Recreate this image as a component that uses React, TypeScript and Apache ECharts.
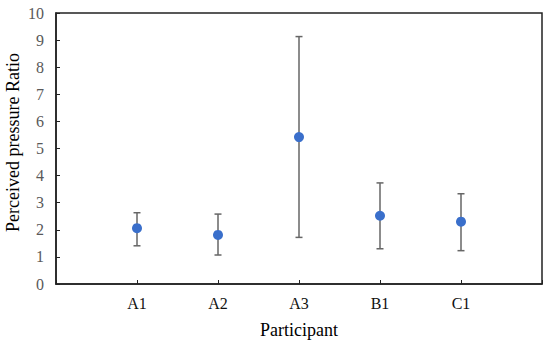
import React, { useEffect, useRef } from "react";
import * as echarts from "echarts";

const categories = ["A1", "A2", "A3", "B1", "C1"];
const meanValues = [2.06, 1.81, 5.42, 2.52, 2.3];
const upperValues = [2.63, 2.58, 9.13, 3.73, 3.33];
const lowerValues = [1.41, 1.07, 1.72, 1.3, 1.23];

const FONT = "'Liberation Serif', 'Times New Roman', serif";

export default function App() {
  const ref = useRef<HTMLDivElement>(null);
  useEffect(() => {
    document.body.style.margin = "0";
    if (!ref.current) return;
    const chart = echarts.init(ref.current, undefined, { renderer: "svg" });
    const points = categories.map((_, i) => [i + 1, meanValues[i]]);
    const bars = categories.map((_, i) => [i + 1, lowerValues[i], upperValues[i]]);
    chart.setOption({
      animation: false,
      grid: {
        left: 56,
        right: 8,
        top: 13,
        bottom: 63,
        show: true,
        borderColor: "#222",
        borderWidth: 1.5,
        containLabel: false,
        outerBoundsMode: "none",
      },
      xAxis: {
        type: "value",
        min: 0,
        max: 6,
        interval: 1,
        name: "Participant",
        nameLocation: "middle",
        nameGap: 37,
        nameMoveOverlap: false,
        nameTextStyle: { fontFamily: FONT, fontSize: 18, color: "#000" },
        axisLine: { lineStyle: { color: "#222", width: 1.5 } },
        axisTick: { inside: true, length: 4, lineStyle: { color: "#222" } },
        axisLabel: {
          fontFamily: FONT,
          fontSize: 16,
          color: "#111",
          margin: 11,
          formatter: (v: number) => categories[v - 1] ?? "",
        },
        splitLine: { show: false },
      },
      yAxis: {
        type: "value",
        min: 0,
        max: 10,
        interval: 1,
        name: "Perceived pressure Ratio",
        nameLocation: "middle",
        nameGap: 34,
        nameMoveOverlap: false,
        nameTextStyle: { fontFamily: FONT, fontSize: 18, color: "#000", padding: [0, 0, 0, 12] },
        axisLine: { show: true, lineStyle: { color: "#222", width: 1.5 } },
        axisTick: { show: true, inside: true, length: 4, lineStyle: { color: "#222" } },
        axisLabel: { fontFamily: FONT, fontSize: 16, color: "#595959", margin: 12 },
        splitLine: { show: false },
      },
      series: [
        {
          type: "custom",
          data: bars,
          renderItem: (params: any, api: any) => {
            const x = api.value(0);
            const top = api.coord([x, api.value(2)]);
            const bot = api.coord([x, api.value(1)]);
            const hw = 3.5;
            const style = { stroke: "#666", lineWidth: 1.5 };
            return {
              type: "group",
              children: [
                { type: "line", shape: { x1: top[0], y1: top[1], x2: bot[0], y2: bot[1] }, style },
                { type: "line", shape: { x1: top[0] - hw, y1: top[1], x2: top[0] + hw, y2: top[1] }, style },
                { type: "line", shape: { x1: bot[0] - hw, y1: bot[1], x2: bot[0] + hw, y2: bot[1] }, style },
              ],
            };
          },
          z: 1,
        },
        {
          type: "scatter",
          data: points,
          symbol: "circle",
          symbolSize: 10,
          itemStyle: { color: "#3A6FCB", opacity: 1 },
          z: 2,
        },
      ],
    });
    return () => chart.dispose();
  }, []);
  return <div ref={ref} style={{ width: 550, height: 347 }} />;
}
